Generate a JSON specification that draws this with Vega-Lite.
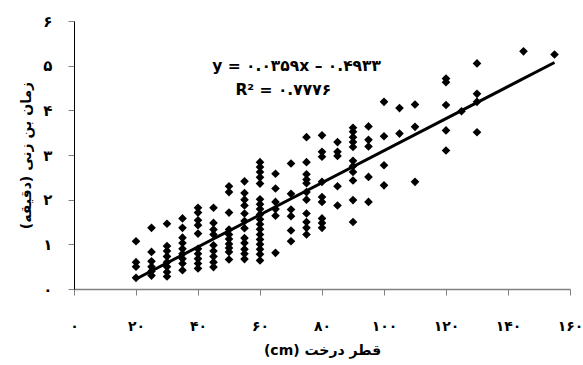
{
  "$schema": "https://vega.github.io/schema/vega-lite/v6.json",
  "width": 496,
  "height": 268,
  "autosize": "none",
  "padding": {"left": 74, "top": 21, "right": 13, "bottom": 76},
  "background": "white",
  "config": {"view": {"stroke": null}, "font": "DejaVu Sans"},
  "datasets": {
    "pts": [
      {"d":20,"t":1.07},{"d":20,"t":0.6},{"d":20,"t":0.5},{"d":20,"t":0.25},
      {"d":25,"t":1.37},{"d":25,"t":0.83},{"d":25,"t":0.62},{"d":25,"t":0.5},{"d":25,"t":0.4},{"d":25,"t":0.3},
      {"d":30,"t":1.46},{"d":30,"t":0.96},{"d":30,"t":0.85},{"d":30,"t":0.73},{"d":30,"t":0.6},{"d":30,"t":0.5},{"d":30,"t":0.38},{"d":30,"t":0.28},
      {"d":35,"t":1.58},{"d":35,"t":1.37},{"d":35,"t":1.15},{"d":35,"t":1.03},{"d":35,"t":0.9},{"d":35,"t":0.79},{"d":35,"t":0.68},{"d":35,"t":0.57},{"d":35,"t":0.42},
      {"d":40,"t":1.82},{"d":40,"t":1.71},{"d":40,"t":1.54},{"d":40,"t":1.43},{"d":40,"t":1.24},{"d":40,"t":0.9},{"d":40,"t":0.79},{"d":40,"t":0.68},{"d":40,"t":0.57},{"d":40,"t":0.46},
      {"d":45,"t":1.82},{"d":45,"t":1.48},{"d":45,"t":1.33},{"d":45,"t":1.22},{"d":45,"t":0.98},{"d":45,"t":0.85},{"d":45,"t":0.73},{"d":45,"t":0.6},{"d":45,"t":0.49},
      {"d":50,"t":2.3},{"d":50,"t":2.17},{"d":50,"t":1.71},{"d":50,"t":1.33},{"d":50,"t":1.22},{"d":50,"t":1.12},{"d":50,"t":1.01},{"d":50,"t":0.92},{"d":50,"t":0.83},{"d":50,"t":0.66},
      {"d":55,"t":2.41},{"d":55,"t":2.15},{"d":55,"t":2.0},{"d":55,"t":1.87},{"d":55,"t":1.69},{"d":55,"t":1.52},{"d":55,"t":1.36},{"d":55,"t":1.14},{"d":55,"t":1.03},{"d":55,"t":0.89},{"d":55,"t":0.79},{"d":55,"t":0.67},
      {"d":60,"t":2.84},{"d":60,"t":2.73},{"d":60,"t":2.62},{"d":60,"t":2.5},{"d":60,"t":2.36},{"d":60,"t":2.01},{"d":60,"t":1.9},{"d":60,"t":1.79},{"d":60,"t":1.67},{"d":60,"t":1.56},{"d":60,"t":1.45},{"d":60,"t":1.34},{"d":60,"t":1.22},{"d":60,"t":1.11},{"d":60,"t":1.0},{"d":60,"t":0.89},{"d":60,"t":0.78},{"d":60,"t":0.64},
      {"d":65,"t":2.58},{"d":65,"t":2.25},{"d":65,"t":1.95},{"d":65,"t":1.79},{"d":65,"t":1.64},{"d":65,"t":0.81},
      {"d":70,"t":2.81},{"d":70,"t":2.13},{"d":70,"t":1.78},{"d":70,"t":1.63},{"d":70,"t":1.31},{"d":70,"t":1.07},
      {"d":75,"t":3.4},{"d":75,"t":2.84},{"d":75,"t":2.57},{"d":75,"t":2.45},{"d":75,"t":2.37},{"d":75,"t":2.17},{"d":75,"t":2.0},{"d":75,"t":1.69},{"d":75,"t":1.5},{"d":75,"t":1.37},{"d":75,"t":1.22},
      {"d":80,"t":3.44},{"d":80,"t":3.07},{"d":80,"t":2.96},{"d":80,"t":2.4},{"d":80,"t":2.06},{"d":80,"t":1.95},{"d":80,"t":1.58},{"d":80,"t":1.48},{"d":80,"t":1.37},
      {"d":85,"t":3.29},{"d":85,"t":3.07},{"d":85,"t":2.98},{"d":85,"t":2.3},{"d":85,"t":1.87},
      {"d":90,"t":3.61},{"d":90,"t":3.52},{"d":90,"t":3.4},{"d":90,"t":3.29},{"d":90,"t":3.18},{"d":90,"t":2.87},{"d":90,"t":2.75},{"d":90,"t":2.62},{"d":90,"t":2.43},{"d":90,"t":1.99},{"d":90,"t":1.5},
      {"d":95,"t":3.64},{"d":95,"t":3.34},{"d":95,"t":3.19},{"d":95,"t":2.51},{"d":95,"t":1.95},
      {"d":100,"t":4.19},{"d":100,"t":3.42},{"d":100,"t":2.77},{"d":100,"t":2.32},
      {"d":105,"t":4.05},{"d":105,"t":3.48},
      {"d":110,"t":4.13},{"d":110,"t":3.63},{"d":110,"t":2.4},
      {"d":120,"t":4.71},{"d":120,"t":4.63},{"d":120,"t":4.12},{"d":120,"t":3.55},{"d":120,"t":3.1},
      {"d":125,"t":3.98},
      {"d":130,"t":5.05},{"d":130,"t":4.37},{"d":130,"t":4.19},{"d":130,"t":3.51},
      {"d":145,"t":5.32},
      {"d":155,"t":5.25}
    ],
    "trend": [
      {"d":20,"t":0.2247},
      {"d":155,"t":5.0712}
    ],
    "notes": [
      {"d":71.8,"t":5.0,"label":"y = ۰.۰۳۵۹x – ۰.۴۹۳۳"},
      {"d":67.5,"t":4.45,"label":"R² = ۰.۷۷۷۶"}
    ]
  },
  "encoding": {
    "x": {
      "field": "d", "type": "quantitative",
      "scale": {"domain": [0, 160], "nice": false, "zero": false},
      "axis": {
        "values": [0,20,40,60,80,100,120,140,160],
        "title": "(cm) قطر درخت",
        "grid": false,
        "domainColor": "#808080", "domainWidth": 1.5,
        "tickColor": "#808080", "tickSize": 6, "tickWidth": 1,
        "labelFlush": false, "labelOverlap": false,
        "labelPadding": 24, "labelFontSize": 14, "labelFontWeight": "bold", "labelColor": "black",
        "labelFont": "DejaVu Sans",
        "labelExpr": "replace(replace(replace(replace(replace(replace(replace(replace(replace(replace(datum.label,regexp('0','g'),'۰'),regexp('1','g'),'۱'),regexp('2','g'),'۲'),regexp('3','g'),'۳'),regexp('4','g'),'۴'),regexp('5','g'),'۵'),regexp('6','g'),'۶'),regexp('7','g'),'۷'),regexp('8','g'),'۸'),regexp('9','g'),'۹')",
        "titleFontSize": 14, "titleFontWeight": "bold", "titleColor": "black", "titleFont": "DejaVu Sans",
        "titlePadding": 10
      }
    },
    "y": {
      "field": "t", "type": "quantitative",
      "scale": {"domain": [0, 6], "nice": false, "zero": false},
      "axis": {
        "values": [0,1,2,3,4,5,6],
        "title": "زمان بن زنی (دقیقه)",
        "grid": false,
        "domainColor": "black", "domainWidth": 1,
        "tickColor": "#808080", "tickSize": 6, "tickWidth": 1,
        "labelFlush": false, "labelOverlap": false,
        "labelPadding": 16, "labelFontSize": 15, "labelFontWeight": "bold", "labelColor": "black",
        "labelFont": "DejaVu Sans",
        "labelExpr": "replace(replace(replace(replace(replace(replace(replace(datum.label,regexp('0','g'),'۰'),regexp('1','g'),'۱'),regexp('2','g'),'۲'),regexp('3','g'),'۳'),regexp('4','g'),'۴'),regexp('5','g'),'۵'),regexp('6','g'),'۶')",
        "titleFontSize": 14, "titleFontWeight": "bold", "titleColor": "black", "titleFont": "DejaVu Sans",
        "titlePadding": 9
      }
    }
  },
  "layer": [
    {
      "data": {"name": "pts"},
      "mark": {"type": "point", "shape": "diamond", "filled": true, "color": "black", "size": 75, "opacity": 1}
    },
    {
      "data": {"name": "trend"},
      "mark": {"type": "line", "color": "black", "strokeWidth": 3}
    },
    {
      "data": {"name": "notes"},
      "mark": {"type": "text", "align": "center", "baseline": "middle", "fontSize": 15.5, "fontWeight": "bold", "font": "DejaVu Sans", "color": "black"},
      "encoding": {"text": {"field": "label"}}
    }
  ]
}
